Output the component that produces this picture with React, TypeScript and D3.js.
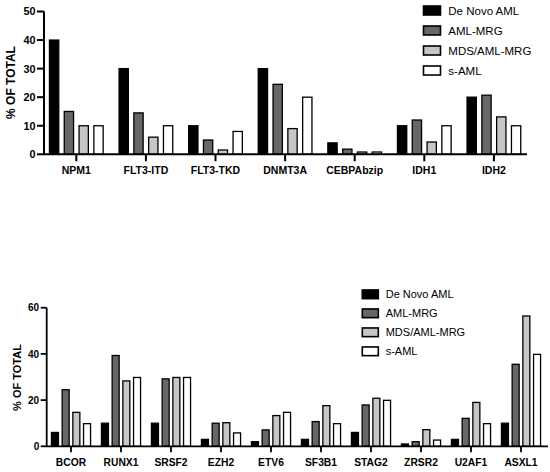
import React from "react";
import * as d3 from "d3";

const seriesNames = ["De Novo AML", "AML-MRG", "MDS/AML-MRG", "s-AML"];
const seriesColors = ["#000000", "#676767", "#c6c6c6", "#ffffff"];

const topCategories = ["NPM1", "FLT3-ITD", "FLT3-TKD", "DNMT3A", "CEBPAbzip", "IDH1", "IDH2"];
const topDeNovo = [40, 30, 10, 30, 4, 10, 20];
const topAmlMrg = [15, 14.5, 5, 24.5, 1.8, 12, 20.7];
const topMdsAmlMrg = [10, 6, 1.5, 9, 0.8, 4.3, 13.1];
const topSAml = [10, 10, 8, 20, 0.8, 10, 10];
const topTicks = [0, 10, 20, 30, 40, 50];

const bottomCategories = ["BCOR", "RUNX1", "SRSF2", "EZH2", "ETV6", "SF3B1", "STAG2", "ZRSR2", "U2AF1", "ASXL1"];
const bottomDeNovo = [6, 10, 10, 3, 2, 3, 6, 1, 3, 10];
const bottomAmlMrg = [24.5, 39.3, 29.2, 10, 7.1, 10.7, 17.9, 2, 12.1, 35.5];
const bottomMdsAmlMrg = [14.7, 28.3, 29.8, 10.2, 13.3, 17.6, 20.8, 7.2, 19, 56.4];
const bottomSAml = [9.8, 29.8, 29.8, 5.8, 14.7, 9.8, 19.9, 2.7, 9.8, 39.8];
const bottomTicks = [0, 20, 40, 60];

const FONT = "'Liberation Sans', Arial, Helvetica, sans-serif";

type PanelProps = {
  categories: string[];
  series: number[][];
  ticks: number[];
  yMax: number;
  yRange: [number, number];
  axisX: number;
  axisRight: number;
  bandRange: [number, number];
  innerHalf: number;
  innerPad: number;
  axisStroke: number;
  tickLen: number;
  tickFont: number;
  labelFont: number;
  labelBaseline: number;
  title: { x: number; y: number; size: number };
  legend: { x: number; y: number; w: number; h: number; gap: number; textX: number; size: number };
};

function Panel(p: PanelProps) {
  const y = d3.scaleLinear().domain([0, p.yMax]).range(p.yRange);
  const x = d3.scaleBand<string>().domain(p.categories).range(p.bandRange).padding(0);
  const inner = d3
    .scaleBand<string>()
    .domain(seriesNames)
    .range([-p.innerHalf, p.innerHalf])
    .paddingInner(p.innerPad)
    .paddingOuter(0);
  const y0 = y(0);
  return (
    <g>
      {p.categories.map((c, ci) => {
        const cx = (x(c) as number) + x.bandwidth() / 2;
        return (
          <g key={c}>
            {seriesNames.map((s, si) => {
              const v = p.series[si][ci];
              return (
                <rect
                  key={s}
                  x={cx + (inner(s) as number)}
                  y={y(v)}
                  width={inner.bandwidth()}
                  height={y0 - y(v)}
                  fill={seriesColors[si]}
                  stroke="#000"
                  strokeWidth={1.3}
                />
              );
            })}
            <line x1={cx} x2={cx} y1={y0} y2={y0 + p.tickLen} stroke="#000" strokeWidth={p.axisStroke} />
            <text
              x={cx}
              y={p.labelBaseline}
              textAnchor="middle"
              fontFamily={FONT}
              fontWeight="bold"
              fontSize={p.labelFont}
            >
              {c}
            </text>
          </g>
        );
      })}
      <line x1={p.axisX} x2={p.axisX} y1={p.yRange[1]} y2={y0} stroke="#000" strokeWidth={p.axisStroke} />
      <line x1={p.axisX} x2={p.axisRight} y1={y0} y2={y0} stroke="#000" strokeWidth={p.axisStroke} />
      {p.ticks.map((t) => (
        <g key={t}>
          <line x1={p.axisX - p.tickLen} x2={p.axisX} y1={y(t)} y2={y(t)} stroke="#000" strokeWidth={p.axisStroke} />
          <text
            x={p.axisX - p.tickLen - 1.5}
            y={y(t)}
            dy="0.36em"
            textAnchor="end"
            fontFamily={FONT}
            fontWeight="bold"
            fontSize={p.tickFont}
          >
            {t}
          </text>
        </g>
      ))}
      <text
        transform={`translate(${p.title.x},${p.title.y}) rotate(-90)`}
        textAnchor="middle"
        dy="0.36em"
        fontFamily={FONT}
        fontWeight="bold"
        fontSize={p.title.size}
      >
        % OF TOTAL
      </text>
      {seriesNames.map((s, si) => {
        const cy = p.legend.y + si * p.legend.gap;
        return (
          <g key={s}>
            <rect
              x={p.legend.x}
              y={cy - p.legend.h / 2}
              width={p.legend.w}
              height={p.legend.h}
              fill={seriesColors[si]}
              stroke="#000"
              strokeWidth={1.6}
            />
            <text x={p.legend.textX} y={cy} dy="0.36em" fontFamily={FONT} fontSize={p.legend.size}>
              {s}
            </text>
          </g>
        );
      })}
    </g>
  );
}

export default function App() {
  return (
    <svg
      width={550}
      height={472}
      style={{ position: "absolute", left: 0, top: 0, background: "#fff" }}
    >
      <rect width={550} height={472} fill="#fff" />
      <Panel
        categories={topCategories}
        series={[topDeNovo, topAmlMrg, topMdsAmlMrg, topSAml]}
        ticks={topTicks}
        yMax={50}
        yRange={[154.3, 11.5]}
        axisX={44}
        axisRight={527}
        bandRange={[41.5, 528.7]}
        innerHalf={26.85}
        innerPad={0.372}
        axisStroke={2}
        tickLen={7}
        tickFont={10.8}
        labelFont={10.5}
        labelBaseline={174}
        title={{ x: 11, y: 82.5, size: 12 }}
        legend={{ x: 423.5, y: 10.5, w: 17, h: 9, gap: 20, textX: 448.3, size: 11.5 }}
      />
      <Panel
        categories={bottomCategories}
        series={[bottomDeNovo, bottomAmlMrg, bottomMdsAmlMrg, bottomSAml]}
        ticks={bottomTicks}
        yMax={60}
        yRange={[446.3, 307.7]}
        axisX={46.7}
        axisRight={548}
        bandRange={[46, 546]}
        innerHalf={19.55}
        innerPad={0.346}
        axisStroke={1.8}
        tickLen={6}
        tickFont={10}
        labelFont={10.3}
        labelBaseline={465.5}
        title={{ x: 16.7, y: 377.5, size: 11 }}
        legend={{ x: 362.3, y: 294.3, w: 16, h: 8.7, gap: 19, textX: 385.7, size: 11 }}
      />
    </svg>
  );
}
